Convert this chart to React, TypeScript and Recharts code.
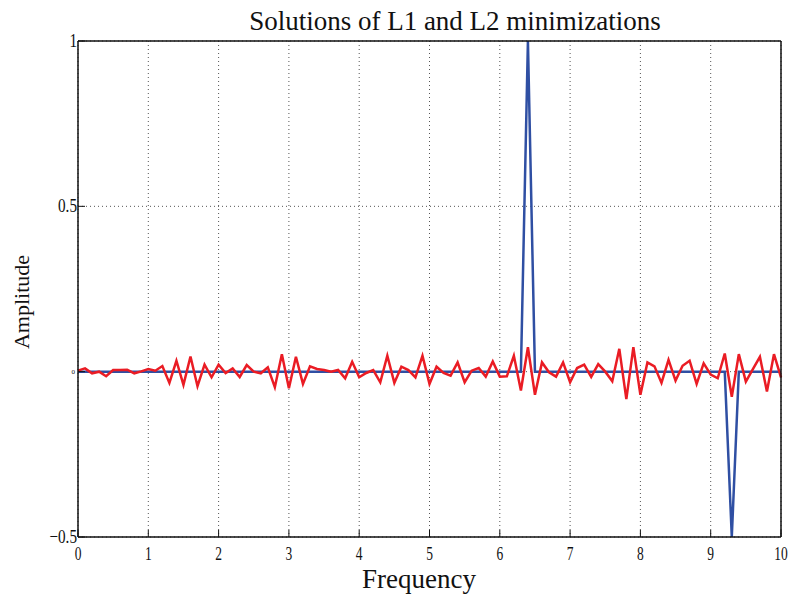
import React from 'react';
import { LineChart, Line, XAxis, YAxis, CartesianGrid } from 'recharts';

const frequency = [
  0, 0.1, 0.2, 0.3, 0.4, 0.5, 0.6, 0.7, 0.8, 0.9,
  1, 1.1, 1.2, 1.3, 1.4, 1.5, 1.6, 1.7, 1.8, 1.9,
  2, 2.1, 2.2, 2.3, 2.4, 2.5, 2.6, 2.7, 2.8, 2.9,
  3, 3.1, 3.2, 3.3, 3.4, 3.5, 3.6, 3.7, 3.8, 3.9,
  4, 4.1, 4.2, 4.3, 4.4, 4.5, 4.6, 4.7, 4.8, 4.9,
  5, 5.1, 5.2, 5.3, 5.4, 5.5, 5.6, 5.7, 5.8, 5.9,
  6, 6.1, 6.2, 6.3, 6.4, 6.5, 6.6, 6.7, 6.8, 6.9,
  7, 7.1, 7.2, 7.3, 7.4, 7.5, 7.6, 7.7, 7.8, 7.9,
  8, 8.1, 8.2, 8.3, 8.4, 8.5, 8.6, 8.7, 8.8, 8.9,
  9, 9.1, 9.2, 9.3, 9.4, 9.5, 9.6, 9.7, 9.8, 9.9,
  10,
];

const l1Solution = [
  0, 0, 0, 0, 0, 0, 0, 0, 0, 0,
  0, 0, 0, 0, 0, 0, 0, 0, 0, 0,
  0, 0, 0, 0, 0, 0, 0, 0, 0, 0,
  0, 0, 0, 0, 0, 0, 0, 0, 0, 0,
  0, 0, 0, 0, 0, 0, 0, 0, 0, 0,
  0, 0, 0, 0, 0, 0, 0, 0, 0, 0,
  0, 0, 0, 0, 1, 0, 0, 0, 0, 0,
  0, 0, 0, 0, 0, 0, 0, 0, 0, 0,
  0, 0, 0, 0, 0, 0, 0, 0, 0, 0,
  0, 0, 0, -0.5, 0, 0, 0, 0, 0, 0,
  0,
];

const l2Solution = [
  0.003, 0.01, -0.005, 0.0, -0.014, 0.005, 0.005, 0.006, -0.005, 0.001,
  0.008, 0.003, 0.017, -0.034, 0.033, -0.04, 0.046, -0.044, 0.021, -0.017,
  0.021, -0.004, 0.01, -0.016, 0.02, 0.0, -0.005, 0.013, -0.047, 0.053,
  -0.05, 0.045, -0.037, 0.016, 0.008, 0.005, 0.0, 0.005, -0.02, 0.03,
  -0.017, -0.004, 0.005, -0.032, 0.048, -0.034, 0.015, 0.005, -0.017, 0.048,
  -0.037, 0.015, -0.004, -0.012, 0.028, -0.032, 0.003, 0.011, -0.015, 0.031,
  -0.015, -0.014, 0.048, -0.057, 0.074, -0.07, 0.028, -0.002, -0.015, 0.028,
  -0.032, 0.011, 0.021, -0.016, 0.023, 0.0, -0.029, 0.069, -0.083, 0.074,
  -0.07, 0.028, 0.016, -0.034, 0.036, -0.027, 0.018, 0.033, -0.037, 0.025,
  -0.009, -0.02, 0.055, -0.076, 0.053, -0.03, 0.008, 0.045, -0.06, 0.053,
  -0.017,
];

const xTicks = [0, 1, 2, 3, 4, 5, 6, 7, 8, 9, 10];
const yTicks = [-0.5, 0, 0.5, 1];

const title = 'Solutions of L1 and L2 minimizations';
const xLabel = 'Frequency';
const yLabel = 'Amplitude';

const data = frequency.map((f, i) => ({ f, l1: l1Solution[i], l2: l2Solution[i] }));

const FONT = '"Liberation Serif", "Times New Roman", serif';

const XTick = (props: any) => {
  const { x, y, payload } = props;
  return (
    <g transform={`translate(${x},${y})`}>
      <text transform="scale(0.75,1)" textAnchor="middle" dy={13} fontSize={18} fill="#111" fontFamily={FONT}>
        {String(payload.value)}
      </text>
    </g>
  );
};

const YTick = (props: any) => {
  const { x, y, payload } = props;
  const v = payload.value;
  if (v === 0) {
    return (
      <text x={x + 7} y={y} dy={2.5} textAnchor="end" fontSize={7} fill="#111" fontFamily={FONT}>
        0
      </text>
    );
  }
  const label = v < 0 ? '\u2212' + String(Math.abs(v)) : String(v);
  return (
    <g transform={`translate(${x + 9},${y})`}>
      <text transform="scale(0.8,1)" textAnchor="end" dy={6} fontSize={19} fill="#111" fontFamily={FONT}>
        {label}
      </text>
    </g>
  );
};

const axisLine = { stroke: '#111', strokeWidth: 1.5 };
const tickLine = { stroke: '#111', strokeWidth: 1 };

export default function App() {
  return (
    <div style={{ position: 'relative', width: 792, height: 594 }}>
      <style>{'html,body{margin:0;padding:0;}'}</style>
      <LineChart
        width={792}
        height={594}
        data={data}
        margin={{ top: 40, right: 10, bottom: 0, left: 0 }}
      >
        <CartesianGrid stroke="#555" strokeDasharray="1 3" />
        <XAxis
          dataKey="f"
          type="number"
          domain={[0, 10]}
          ticks={xTicks}
          height={57}
          tickSize={-7}
          tickMargin={17}
          tick={<XTick />}
          axisLine={axisLine}
          tickLine={tickLine}
          interval={0}
          label={() => (
            <text x={419} y={588} textAnchor="middle" fontSize={27} fill="#111" fontFamily={FONT}>
              {xLabel}
            </text>
          )}
        />
        <XAxis
          xAxisId="top"
          dataKey="f"
          orientation="top"
          type="number"
          domain={[0, 10]}
          ticks={xTicks}
          height={1}
          tickSize={-7}
          tick={false}
          axisLine={axisLine}
          tickLine={tickLine}
          interval={0}
        />
        <YAxis
          type="number"
          domain={[-0.5, 1]}
          ticks={yTicks}
          width={78}
          tickSize={-7}
          tickMargin={17}
          tick={<YTick />}
          axisLine={axisLine}
          tickLine={tickLine}
          interval={0}
          label={() => (
            <text
              x={29}
              y={302}
              transform="rotate(-90 29 302)"
              textAnchor="middle"
              fontSize={22}
              fill="#111"
              fontFamily={FONT}
            >
              {yLabel}
            </text>
          )}
        />
        <YAxis
          yAxisId="right"
          orientation="right"
          type="number"
          domain={[-0.5, 1]}
          ticks={yTicks}
          width={1}
          tickSize={-7}
          tick={false}
          axisLine={axisLine}
          tickLine={tickLine}
          interval={0}
        />
        <Line
          type="linear"
          dataKey="l1"
          stroke="#2f4fa3"
          strokeWidth={2.5}
          dot={false}
          isAnimationActive={false}
        />
        <Line
          type="linear"
          dataKey="l2"
          xAxisId="top"
          yAxisId="right"
          stroke="#ea1c24"
          strokeWidth={2.5}
          dot={false}
          isAnimationActive={false}
        />
      </LineChart>
      <svg
        width={792}
        height={50}
        style={{ position: 'absolute', left: 0, top: 0, pointerEvents: 'none' }}
      >
        <text x={455} y={30} textAnchor="middle" fontSize={27} fill="#111" fontFamily={FONT}>
          {title}
        </text>
      </svg>
    </div>
  );
}
